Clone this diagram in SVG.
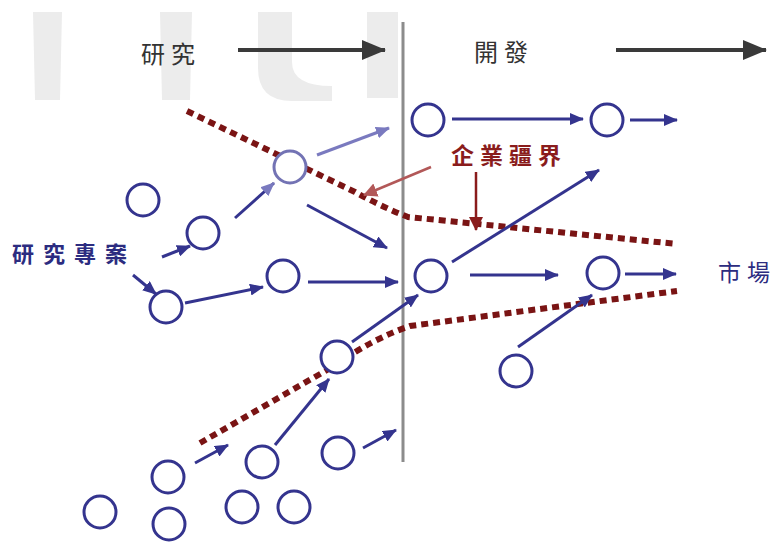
<svg xmlns="http://www.w3.org/2000/svg" width="777" height="545" viewBox="0 0 777 545">
  <style>
    .wm { fill: #ececec; }
    .node { fill: #ffffff; stroke: #34348e; stroke-width: 3; }
    .node.light { stroke: #7373b4; }
    .flow { stroke: #34348e; stroke-width: 3; fill: none; }
    .flow.light { stroke: #7a7abf; }
    .phase { stroke: #3a3a3a; stroke-width: 4; fill: none; }
    .bound { stroke: #7a1414; stroke-width: 6; fill: none; stroke-dasharray: 7 5; }
    .note { stroke: #8a1c1c; stroke-width: 2.5; fill: none; }
    .note.light { stroke: #b25858; }
    .divider { stroke: #8c8c8c; stroke-width: 3; }
    text { font-family: "Noto Sans CJK TC", "Noto Sans CJK SC", sans-serif; }
    .lbl-phase { font-size: 24px; fill: #333333; letter-spacing: 6px; }
    .lbl-blue { font-size: 22px; fill: #2c2c80; font-weight: bold; letter-spacing: 9px; }
    .lbl-market { font-size: 23px; fill: #2c2c80; }
    .lbl-red { font-size: 23px; fill: #8a1c1c; font-weight: bold; letter-spacing: 6px; }
  </style>
  <defs>
    <marker id="hNavy" markerUnits="userSpaceOnUse" markerWidth="14" markerHeight="12" refX="13" refY="6" orient="auto">
      <path d="M0,0 L14,6 L0,12 z" fill="#34348e"/>
    </marker>
    <marker id="hLight" markerUnits="userSpaceOnUse" markerWidth="14" markerHeight="12" refX="13" refY="6" orient="auto">
      <path d="M0,0 L14,6 L0,12 z" fill="#7a7abf"/>
    </marker>
    <marker id="hDark" markerUnits="userSpaceOnUse" markerWidth="24" markerHeight="20" refX="23" refY="10" orient="auto">
      <path d="M0,0 L24,10 L0,20 z" fill="#3a3a3a"/>
    </marker>
    <marker id="hRed" markerUnits="userSpaceOnUse" markerWidth="14" markerHeight="14" refX="13" refY="7" orient="auto">
      <path d="M0,0 L14,7 L0,14 z" fill="#8a1c1c"/>
    </marker>
    <marker id="hRedLight" markerUnits="userSpaceOnUse" markerWidth="14" markerHeight="14" refX="13" refY="7" orient="auto">
      <path d="M0,0 L14,7 L0,14 z" fill="#b25858"/>
    </marker>
  </defs>

  <rect width="777" height="545" fill="#ffffff"/>

  <!-- faint background lettering -->
  <g id="backdrop">
    <path class="wm" d="M33,12 H62 L60,100 H35 Z"/>
    <path class="wm" d="M160,12 H192 L190,100 H162 Z"/>
    <path class="wm" d="M258,12 H292 V62 Q292,86 332,86 V101 H292 Q258,101 258,68 Z"/>
    <path class="wm" d="M367,12 H398 V98 H367 Z"/>
  </g>

  <!-- phase divider -->
  <line id="divider" class="divider" x1="403" y1="22" x2="403" y2="462"/>

  <!-- phase headings -->
  <g id="phase-research">
    <text class="lbl-phase" x="141" y="63">研究</text>
  </g>
  <g id="phase-development">
    <text class="lbl-phase" x="474" y="61">開發</text>
  </g>

  <!-- firm boundary (dotted) -->
  <g id="boundary">
    <path class="bound" d="M187,111 L355,192 Q380,206 408,217 L677,244"/>
    <path class="bound" d="M200,443 L334,366 Q372,339 410,326 L677,291"/>
  </g>

  <!-- labels -->
  <g id="label-projects">
    <text class="lbl-blue" x="12" y="262">研究專案</text>
  </g>
  <g id="label-boundary">
    <text class="lbl-red" x="451" y="164">企業疆界</text>
  </g>
  <g id="label-market">
    <text class="lbl-market" x="718 747" y="281">市場</text>
  </g>

  <!-- connectors -->
  <g id="connectors">
    <line class="phase" x1="238" y1="50" x2="385" y2="50" marker-end="url(#hDark)"/>
    <line class="phase" x1="616" y1="50" x2="766" y2="50" marker-end="url(#hDark)"/>

    <line class="note" x1="476" y1="172" x2="476" y2="230" marker-end="url(#hRed)"/>
    <line class="note light" x1="431" y1="167" x2="364" y2="195" marker-end="url(#hRedLight)"/>

    <line class="flow" x1="162" y1="257" x2="190" y2="246" marker-end="url(#hNavy)"/>
    <line class="flow" x1="133" y1="275" x2="156" y2="294" marker-end="url(#hNavy)"/>
    <line class="flow" x1="235" y1="218" x2="274" y2="183" marker-end="url(#hLight)"/>
    <line class="flow light" x1="317" y1="155" x2="389" y2="128" marker-end="url(#hLight)"/>
    <line class="flow" x1="307" y1="205" x2="387" y2="248" marker-end="url(#hNavy)"/>
    <line class="flow" x1="185" y1="303" x2="263" y2="287" marker-end="url(#hNavy)"/>
    <line class="flow" x1="308" y1="282" x2="398" y2="282" marker-end="url(#hNavy)"/>

    <line class="flow" x1="452" y1="119" x2="583" y2="119" marker-end="url(#hNavy)"/>
    <line class="flow" x1="630" y1="120" x2="677" y2="120" marker-end="url(#hNavy)"/>
    <line class="flow" x1="452" y1="262" x2="599" y2="170" marker-end="url(#hNavy)"/>
    <line class="flow" x1="470" y1="275" x2="558" y2="275" marker-end="url(#hNavy)"/>
    <line class="flow" x1="625" y1="274" x2="676" y2="274" marker-end="url(#hNavy)"/>
    <line class="flow" x1="518" y1="347" x2="592" y2="295" marker-end="url(#hNavy)"/>

    <line class="flow" x1="352" y1="342" x2="418" y2="295" marker-end="url(#hNavy)"/>
    <line class="flow" x1="275" y1="445" x2="329" y2="379" marker-end="url(#hNavy)"/>
    <line class="flow" x1="195" y1="463" x2="228" y2="445" marker-end="url(#hNavy)"/>
    <line class="flow" x1="363" y1="448" x2="396" y2="430" marker-end="url(#hNavy)"/>
  </g>

  <!-- project nodes -->
  <g id="n1"><circle class="node" cx="143" cy="200" r="16"/></g>
  <g id="n2"><circle class="node" cx="203" cy="233" r="16"/></g>
  <g id="n3"><circle class="node light" cx="290" cy="167" r="16"/></g>
  <g id="n4"><circle class="node" cx="283" cy="276" r="16"/></g>
  <g id="n5"><circle class="node" cx="166" cy="307" r="16"/></g>
  <g id="n6"><circle class="node" cx="428" cy="120" r="16"/></g>
  <g id="n7"><circle class="node" cx="607" cy="120" r="16"/></g>
  <g id="n8"><circle class="node" cx="431" cy="276" r="16"/></g>
  <g id="n9"><circle class="node" cx="603" cy="273" r="16"/></g>
  <g id="n10"><circle class="node" cx="337" cy="357" r="16"/></g>
  <g id="n11"><circle class="node" cx="516" cy="371" r="16"/></g>
  <g id="n12"><circle class="node" cx="168" cy="477" r="16"/></g>
  <g id="n13"><circle class="node" cx="262" cy="462" r="16"/></g>
  <g id="n14"><circle class="node" cx="338" cy="453" r="16"/></g>
  <g id="n15"><circle class="node" cx="100" cy="512" r="16"/></g>
  <g id="n16"><circle class="node" cx="169" cy="524" r="16"/></g>
  <g id="n17"><circle class="node" cx="242" cy="507" r="16"/></g>
  <g id="n18"><circle class="node" cx="294" cy="507" r="16"/></g>
</svg>
